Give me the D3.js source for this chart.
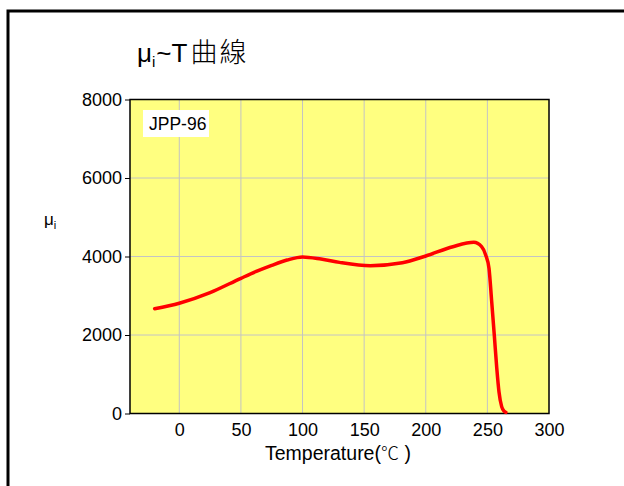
<!DOCTYPE html>
<html><head><meta charset="utf-8">
<script src="https://cdn.jsdelivr.net/npm/d3@7"></script>
<style>
body{margin:0;background:#fff;}
svg{display:block;font-family:"Liberation Sans",Arial,sans-serif;}
</style></head>
<body><svg id="c" width="624" height="486"></svg>
<script>
const temps = [-20, 0, 25, 50, 62.5, 75, 87.5, 100, 115, 130, 155, 181, 200, 222, 239, 245.3, 248.6, 251.3, 253.5, 255.6, 257.6, 259.4, 261.6, 263.5, 265];
const mu    = [2670, 2810, 3080, 3445, 3620, 3775, 3910, 3990, 3935, 3850, 3766, 3840, 4013, 4250, 4360, 4250, 4040, 3700, 2850, 2000, 1160, 555, 175, 60, 30];
const xTicks = [0, 50, 100, 150, 200, 250, 300];
const yTicks = [0, 2000, 4000, 6000, 8000];
const xDomain = [-40, 300];
const yDomain = [0, 8000];
const seriesName = "JPP-96";

const svg = d3.select("#c");
const L = 130, R = 549, T = 99.5, B = 413.5;
const x = d3.scaleLinear().domain(xDomain).range([L, R]);
const y = d3.scaleLinear().domain(yDomain).range([B, T]);

// outer frame
svg.append("rect").attr("x", 8).attr("y", 11).attr("width", 700).attr("height", 600)
  .attr("fill", "none").attr("stroke", "#000").attr("stroke-width", 3);

// plot background
svg.append("rect").attr("x", L).attr("y", T).attr("width", R - L).attr("height", B - T)
  .attr("fill", "#ffff80");

// grid
svg.append("g").selectAll("line").data(xTicks.filter(t => x(t) > L + 1 && x(t) < R - 1)).join("line")
  .attr("x1", d => x(d)).attr("x2", d => x(d)).attr("y1", T).attr("y2", B)
  .attr("stroke", "#c4c4c4").attr("stroke-width", 1);
svg.append("g").selectAll("line").data(yTicks.filter(t => y(t) > T + 1 && y(t) < B - 1)).join("line")
  .attr("x1", L).attr("x2", R).attr("y1", d => y(d)).attr("y2", d => y(d))
  .attr("stroke", "#c4c4c4").attr("stroke-width", 1);

// plot border
svg.append("rect").attr("x", L).attr("y", T).attr("width", R - L).attr("height", B - T)
  .attr("fill", "none").attr("stroke", "#000").attr("stroke-width", 1.5);

// y axis
const yAxis = d3.axisLeft(y).tickValues(yTicks).tickSize(5).tickPadding(3).tickFormat(d3.format("d"));
const gy = svg.append("g").attr("transform", `translate(${L},0)`).call(yAxis);
gy.select(".domain").remove();
gy.selectAll("text").attr("font-size", 18).attr("font-family", "Liberation Sans, Arial, sans-serif").attr("fill", "#000");
gy.selectAll("line").attr("stroke", "#000");

// x axis
const xAxis = d3.axisBottom(x).tickValues(xTicks).tickSize(0).tickPadding(10).tickFormat(d3.format("d"));
const gx = svg.append("g").attr("transform", `translate(0,${B})`).call(xAxis);
gx.select(".domain").remove();
gx.selectAll("text").attr("font-size", 18).attr("font-family", "Liberation Sans, Arial, sans-serif").attr("fill", "#000");

// curve
const data = temps.map((t, i) => ({t, v: mu[i]}));
const line = d3.line().x(d => x(d.t)).y(d => y(d.v)).curve(d3.curveMonotoneX);
svg.append("path").datum(data).attr("d", line)
  .attr("fill", "none").attr("stroke", "#ff0000").attr("stroke-width", 3.5)
  .attr("stroke-linecap", "round").attr("stroke-linejoin", "round");

// legend label
svg.append("rect").attr("x", 143).attr("y", 110).attr("width", 66).attr("height", 27).attr("fill", "#fff");
svg.append("text").attr("x", 149).attr("y", 130).attr("font-size", 17.5).attr("fill", "#000").text(seriesName);

// title
const title = svg.append("text").attr("x", 137).attr("y", 62).attr("font-size", 26).attr("fill", "#000");
title.append("tspan").text("μ");
title.append("tspan").attr("font-size", 15).attr("dy", 5).text("i");
title.append("tspan").attr("dy", -5).attr("dx", 1).text("~T");
title.append("tspan").attr("font-family", "Noto Sans CJK TC").attr("font-size", 27).attr("font-weight", 300).attr("dx", 3).attr("letter-spacing", 2).text("曲線");

// y label
const yl = svg.append("text").attr("x", 44).attr("y", 225).attr("font-size", 17).attr("fill", "#000");
yl.append("tspan").text("μ");
yl.append("tspan").attr("font-size", 11).attr("dy", 4).text("i");

// x label
const xl = svg.append("text").attr("x", 265).attr("y", 460).attr("font-size", 19.5).attr("fill", "#000");
xl.append("tspan").text("Temperature(");
xl.append("tspan").attr("font-family", "Noto Sans CJK TC").attr("font-weight", 300).attr("font-size", 18).text("℃");
xl.append("tspan").text(" )");
</script></body></html>
